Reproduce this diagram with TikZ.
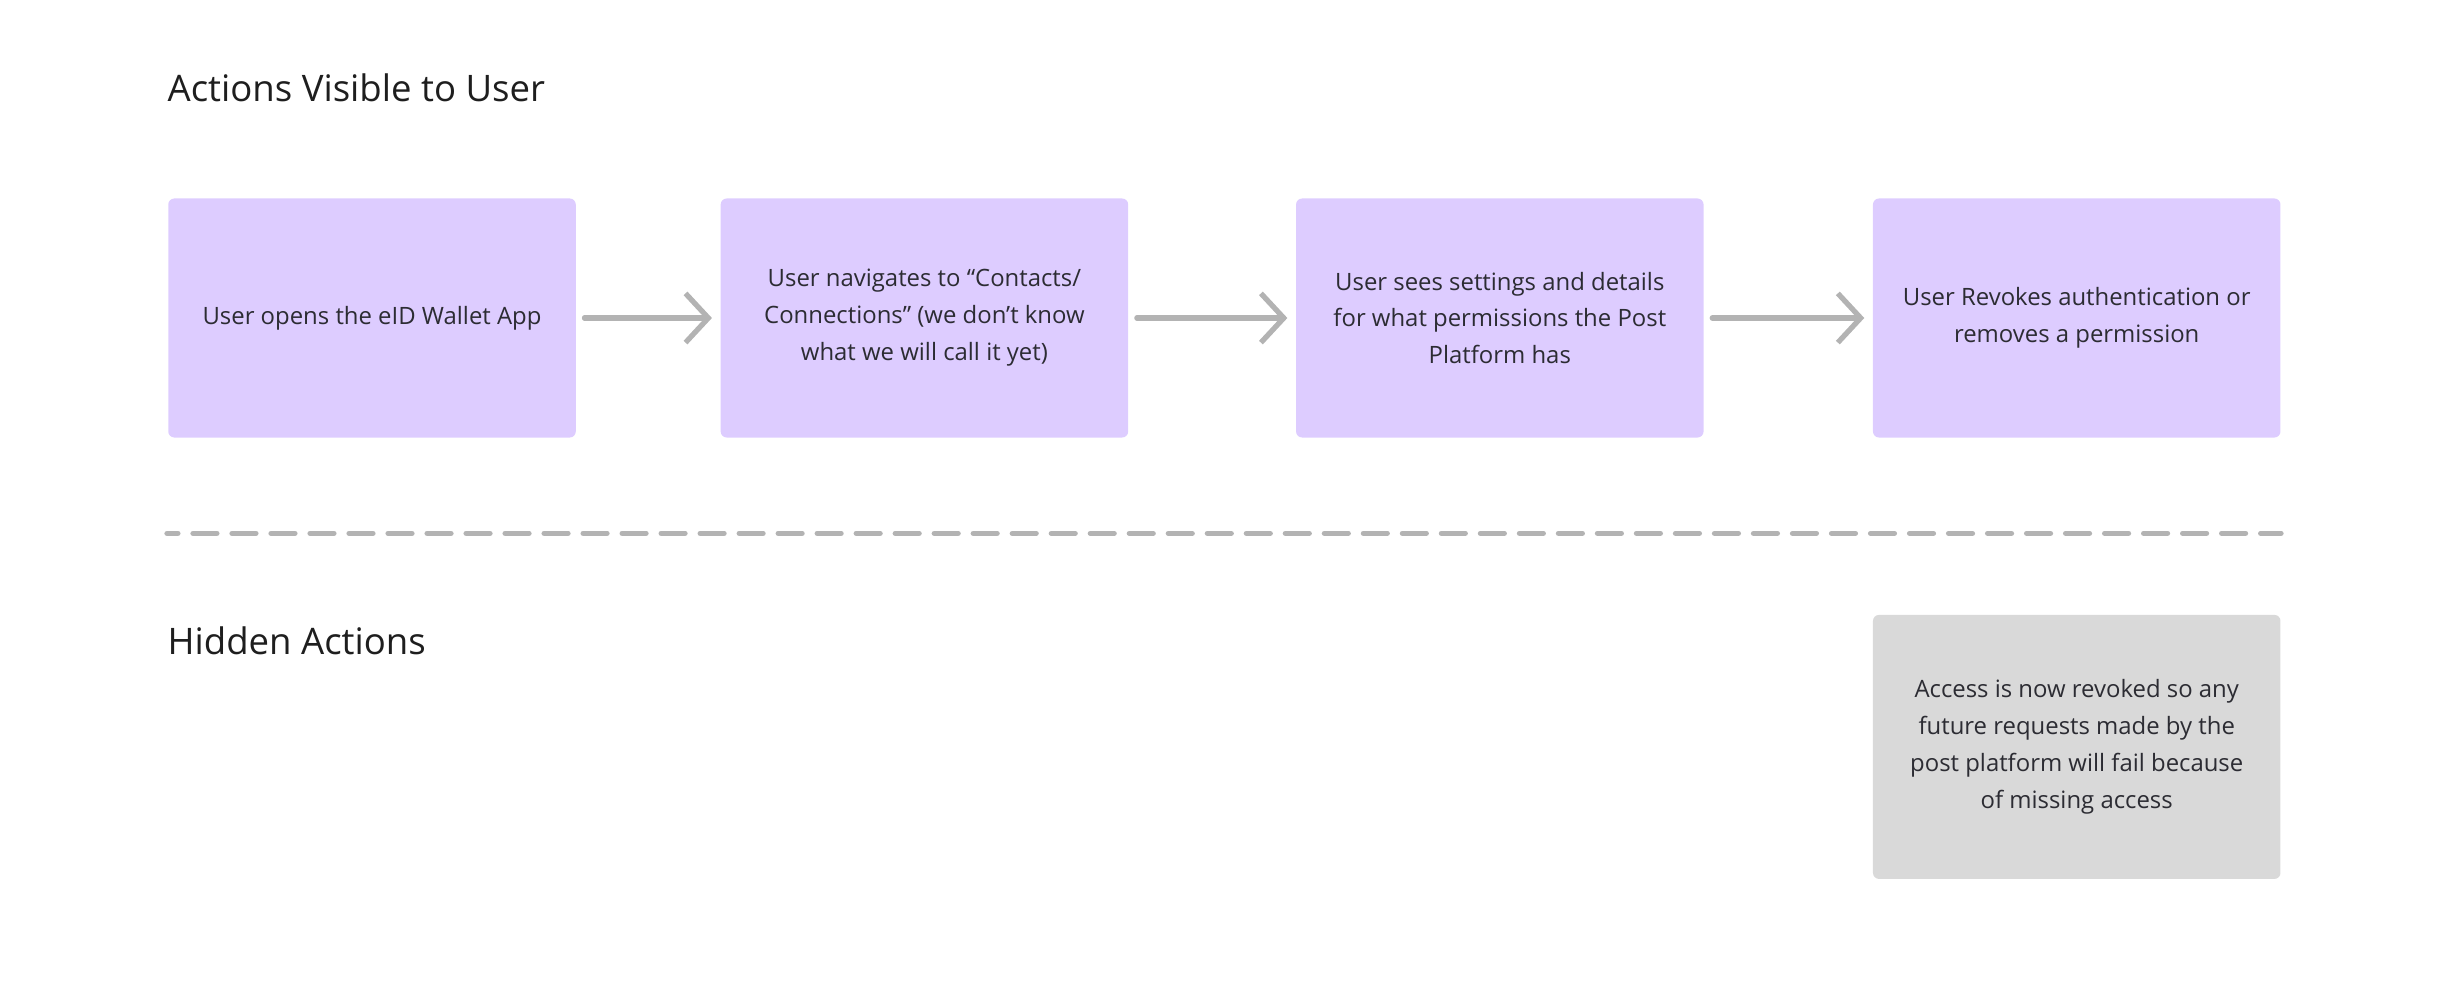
\documentclass[tikz,border=0pt]{standalone}
\usepackage{fontspec}
\setmainfont{Open Sans}
\usepackage{tikz}
\usetikzlibrary{positioning, arrows.meta}
\usepackage{xcolor}
\definecolor{boxpurple}{HTML}{DDCCFF}
\definecolor{boxgray}{HTML}{D9D9D9}
\definecolor{linegray}{HTML}{B3B3B3}
\definecolor{textdark}{HTML}{2C2C33}
\definecolor{headdark}{HTML}{1E1E1E}

\begin{document}
\begin{tikzpicture}[
    stepbox/.style={rectangle, rounded corners=0.06cm, fill=boxpurple, minimum width=4.075cm, minimum height=2.39cm, inner sep=0pt, align=center, text=textdark, font=\fontsize{6.8}{10.5}\selectfont},
    hiddenbox/.style={stepbox, fill=boxgray, minimum height=2.64cm},
    heading/.style={anchor=base west, inner sep=0pt, text=headdark, font=\fontsize{10.4}{13}\selectfont},
    flow/.style={-{Straight Barb[length=6.5pt, width=14pt]}, line width=1.5pt, linegray, line cap=round, shorten <=0.08cm, shorten >=0.08cm}
]

        % Page frame
        \useasboundingbox (0, 0) rectangle (24.48, 9.98);

        % Upper lane: what the user sees
        \node[heading] (visible) at (1.67, 8.96) {Actions Visible to User};

        \node[stepbox] (open) at (3.72, 6.80) {User opens the eID Wallet App};
        \node[stepbox, right=1.435cm of open] (navigate) {User navigates to “Contacts/\\Connections” (we don’t know\\what we will call it yet)};
        \node[stepbox, right=1.665cm of navigate] (details) {User sees settings and details\\for what permissions the Post\\Platform has};
        \node[stepbox, right=1.68cm of details] (revoke) {User Revokes authentication or\\removes a permission};

        % Arrows between the steps
        \draw[flow] (open) -- (navigate);
        \draw[flow] (navigate) -- (details);
        \draw[flow] (details) -- (revoke);

        % Divider between the lanes
        \coordinate (divleft) at (1.67, 4.647);
        \coordinate (divright) at (22.81, 4.647);
        \draw[linegray, line width=1.5pt, line cap=round, dash pattern=on 6.8pt off 4.3pt, dash phase=3.7pt] (divleft) -- (divright);

        % Lower lane: what happens behind the scenes
        \node[heading] (hidden) at (1.67, 3.44) {Hidden Actions};

        \node[hiddenbox, below=1.76cm of revoke] (access) {Access is now revoked so any\\future requests made by the\\post platform will fail because\\of missing access};

    \end{tikzpicture}
\end{document}
